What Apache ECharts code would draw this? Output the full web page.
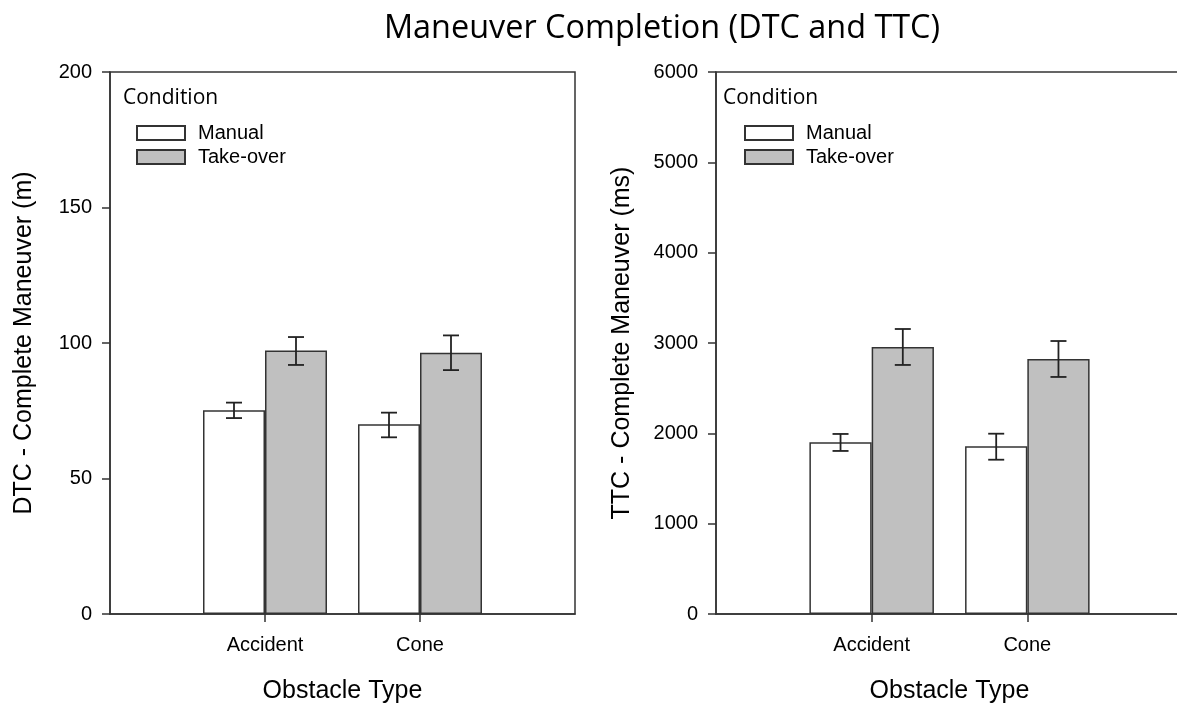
<!DOCTYPE html>
<html>
<head>
<meta charset="utf-8">
<title>Maneuver Completion (DTC and TTC)</title>
<script src="https://cdn.jsdelivr.net/npm/echarts@6/dist/echarts.min.js"></script>
<style>
  html, body { margin: 0; padding: 0; background: #fff; }
  #container { width: 1177px; height: 705px; }
</style>
</head>
<body>
<div id="container"></div>
<script>
// data
const categories = ['Accident', 'Cone'];
const conditions = ['Manual', 'Take-over'];

const dtcManual = [75.2, 70.0];
const dtcManualLow = [72.3, 65.2];
const dtcManualHigh = [78.0, 74.3];
const dtcTakeover = [97.2, 96.4];
const dtcTakeoverLow = [91.9, 90.0];
const dtcTakeoverHigh = [102.2, 102.8];

const ttcManual = [1901, 1856];
const ttcManualLow = [1805, 1708];
const ttcManualHigh = [1993, 1996];
const ttcTakeover = [2956, 2823];
const ttcTakeoverLow = [2757, 2624];
const ttcTakeoverHigh = [3155, 3022];

const dtcTicks = { min: 0, max: 200, interval: 50 };
const ttcTicks = { min: 0, max: 6000, interval: 1000 };

const sans = 'Liberation Sans, Arial, sans-serif';
const humanist = 'Open Sans, Lato, sans-serif';
const lineColor = '#333';

// empty slots either side so the two groups sit at 1/3 and 2/3 of the width
const axisCats = [''].concat(categories, ['']);
const pad = arr => ['-'].concat(arr, ['-']);

function errorRender(side) {
  return function (params, api) {
    const idx = api.value(0);
    const lo = api.coord([idx, api.value(1)]);
    const hi = api.coord([idx, api.value(2)]);
    const band = api.size([1, 0])[0];
    const cx = lo[0] + side * band * 0.2;
    const cap = 8;
    const style = { stroke: '#222', lineWidth: 1.8, fill: null };
    return {
      type: 'group',
      children: [
        { type: 'line', shape: { x1: cx, y1: hi[1], x2: cx, y2: lo[1] }, style: style },
        { type: 'line', shape: { x1: cx - cap, y1: hi[1], x2: cx + cap, y2: hi[1] }, style: style },
        { type: 'line', shape: { x1: cx - cap, y1: lo[1], x2: cx + cap, y2: lo[1] }, style: style }
      ]
    };
  };
}

const errData = (low, high) => categories.map((c, i) => [i + 1, low[i], high[i]]);

function xAxisFor(gridIndex) {
  return {
    type: 'category',
    gridIndex: gridIndex,
    data: axisCats,
    boundaryGap: false,
    name: 'Obstacle Type',
    nameLocation: 'middle',
    nameGap: 65,
    nameTextStyle: { fontFamily: sans, fontSize: 25, color: '#000' },
    axisLine: { lineStyle: { color: lineColor, width: 1.5 } },
    axisTick: { length: 8, interval: idx => idx === 1 || idx === 2, lineStyle: { color: lineColor, width: 1.5 } },
    axisLabel: { fontFamily: sans, fontSize: 20, color: '#000', margin: 21, interval: 0 },
    splitLine: { show: false }
  };
}

function yAxisFor(gridIndex, ticks, title, gap) {
  return {
    type: 'value',
    gridIndex: gridIndex,
    min: ticks.min,
    max: ticks.max,
    interval: ticks.interval,
    name: title,
    nameLocation: 'middle',
    nameGap: gap,
    nameTextStyle: { fontFamily: sans, fontSize: 25, color: '#000' },
    axisLine: { show: true, lineStyle: { color: lineColor, width: 1.5 } },
    axisTick: { show: true, length: 8, lineStyle: { color: lineColor, width: 1.5 } },
    axisLabel: { fontFamily: sans, fontSize: 20, color: '#000', margin: 18, formatter: v => String(v) },
    splitLine: { show: false }
  };
}

const manualStyle = { color: '#ffffff', borderColor: lineColor, borderWidth: 1.5 };
const takeoverStyle = { color: '#c0c0c0', borderColor: lineColor, borderWidth: 1.5 };

function legendFor(left) {
  return {
    data: conditions,
    orient: 'vertical',
    left: left,
    top: 123,
    padding: 0,
    itemWidth: 48,
    itemHeight: 14,
    itemGap: 4,
    icon: 'rect',
    selectedMode: false,
    textStyle: { fontFamily: sans, fontSize: 20, color: '#000', padding: [0, 0, 0, 8] }
  };
}

function conditionTitle(left) {
  return {
    text: 'Condition',
    left: left,
    top: 88,
    padding: 0,
    textStyle: { fontFamily: humanist, fontSize: 21, fontWeight: 'normal', color: '#000' }
  };
}

function gridAt(left, width) {
  return {
    left: left, width: width, top: 72, bottom: 91,
    outerBoundsMode: 'none',
    show: true, borderColor: lineColor, borderWidth: 1.5
  };
}

const options = {
  animation: false,
  backgroundColor: '#fff',
  title: [
    {
      text: 'Maneuver Completion (DTC and TTC)',
      left: 662,
      top: 13,
      padding: 0,
      textAlign: 'center',
      textStyle: { fontFamily: humanist, fontSize: 32.4, fontWeight: 'normal', color: '#000' }
    },
    conditionTitle(123),
    conditionTitle(723)
  ],
  legend: [legendFor(136), legendFor(744)],
  grid: [gridAt(110, 465), gridAt(716, 467)],
  xAxis: [xAxisFor(0), xAxisFor(1)],
  yAxis: [
    yAxisFor(0, dtcTicks, 'DTC - Complete Maneuver (m)', 73),
    yAxisFor(1, ttcTicks, 'TTC - Complete Maneuver (ms)', 81)
  ],
  series: [
    { name: 'Manual', type: 'bar', xAxisIndex: 0, yAxisIndex: 0, data: pad(dtcManual),
      barWidth: '40%', barGap: '0%', itemStyle: manualStyle },
    { name: 'Take-over', type: 'bar', xAxisIndex: 0, yAxisIndex: 0, data: pad(dtcTakeover),
      barWidth: '40%', barGap: '0%', itemStyle: takeoverStyle },
    { name: 'Manual', type: 'bar', xAxisIndex: 1, yAxisIndex: 1, data: pad(ttcManual),
      barWidth: '40%', barGap: '0%', itemStyle: manualStyle },
    { name: 'Take-over', type: 'bar', xAxisIndex: 1, yAxisIndex: 1, data: pad(ttcTakeover),
      barWidth: '40%', barGap: '0%', itemStyle: takeoverStyle },
    { type: 'custom', xAxisIndex: 0, yAxisIndex: 0, z: 5, renderItem: errorRender(-1),
      encode: { x: 0, y: [1, 2] }, data: errData(dtcManualLow, dtcManualHigh) },
    { type: 'custom', xAxisIndex: 0, yAxisIndex: 0, z: 5, renderItem: errorRender(1),
      encode: { x: 0, y: [1, 2] }, data: errData(dtcTakeoverLow, dtcTakeoverHigh) },
    { type: 'custom', xAxisIndex: 1, yAxisIndex: 1, z: 5, renderItem: errorRender(-1),
      encode: { x: 0, y: [1, 2] }, data: errData(ttcManualLow, ttcManualHigh) },
    { type: 'custom', xAxisIndex: 1, yAxisIndex: 1, z: 5, renderItem: errorRender(1),
      encode: { x: 0, y: [1, 2] }, data: errData(ttcTakeoverLow, ttcTakeoverHigh) }
  ]
};

const mychart = echarts.init(document.getElementById('container'));
mychart.setOption(options);
window.addEventListener('resize', () => { mychart.resize() });
</script>
</body>
</html>
